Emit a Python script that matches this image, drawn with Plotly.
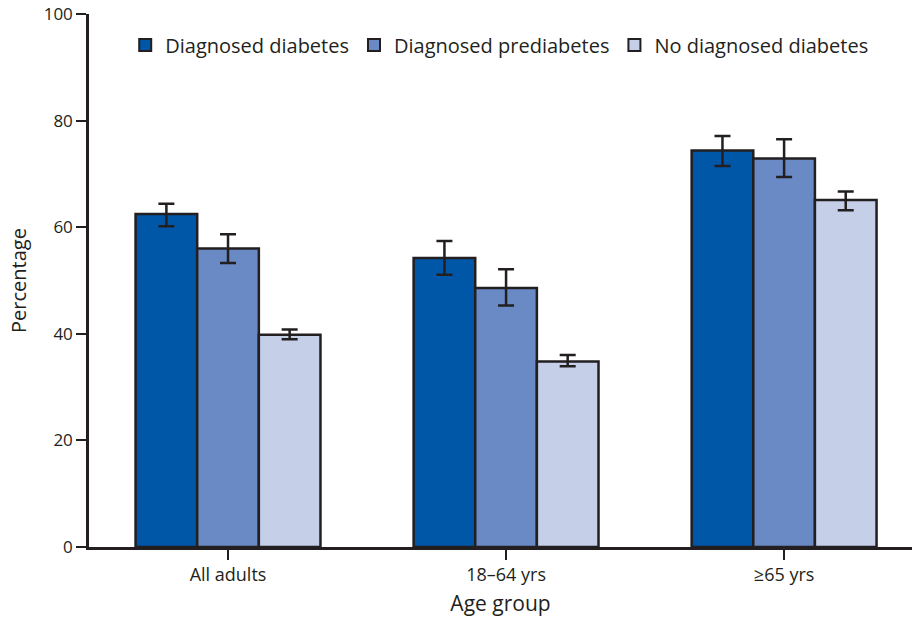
import plotly.graph_objects as go

categories = ["All adults", "18–64 yrs", "≥65 yrs"]
series_names = ["Diagnosed diabetes", "Diagnosed prediabetes", "No diagnosed diabetes"]
diabetes = [62.5, 54.2, 74.4]
diabetes_lo = [60.2, 51.1, 71.5]
diabetes_hi = [64.4, 57.4, 77.1]
prediabetes = [56.0, 48.6, 72.9]
prediabetes_lo = [53.3, 45.3, 69.4]
prediabetes_hi = [58.7, 52.1, 76.5]
nodiabetes = [39.8, 34.8, 65.1]
nodiabetes_lo = [39.0, 33.9, 63.2]
nodiabetes_hi = [40.8, 36.0, 66.7]
colors = ["#0057a8", "#6a8ac6", "#c5cfe8"]
y_ticks = [0, 20, 40, 60, 80, 100]

FONT = "Open Sans"
INK = "#231f20"

fig = go.Figure()
for name, vals, lo, hi, col in zip(
    series_names,
    [diabetes, prediabetes, nodiabetes],
    [diabetes_lo, prediabetes_lo, nodiabetes_lo],
    [diabetes_hi, prediabetes_hi, nodiabetes_hi],
    colors,
):
    fig.add_trace(go.Bar(
        x=categories, y=vals, name=name, showlegend=False,
        marker=dict(color=col, line=dict(color=INK, width=2.5)),
        error_y=dict(type="data", symmetric=False,
                     array=[h - v for h, v in zip(hi, vals)],
                     arrayminus=[v - l for v, l in zip(vals, lo)],
                     color=INK, thickness=2.5, width=8),
    ))

# legend proxies (larger square swatches like the reference)
for name, col in zip(series_names, colors):
    fig.add_trace(go.Scatter(
        x=[None], y=[None], mode="markers", name=name,
        marker=dict(symbol="square", size=19, color=col, line=dict(color=INK, width=2.5)),
    ))

fig.update_layout(
    width=912, height=617,
    margin=dict(l=89, r=0, t=14, b=70),
    paper_bgcolor="white", plot_bgcolor="white",
    barmode="group", bargap=0.335, bargroupgap=0,
    font=dict(family=FONT, size=16, color=INK),
    legend=dict(orientation="h", x=0.044, y=0.942, xanchor="left", yanchor="middle",
                font=dict(size=20, color=INK), itemsizing="constant",
                traceorder="normal", bgcolor="rgba(0,0,0,0)"),
    xaxis=dict(range=[-0.5, 2.46], showline=True, linecolor=INK, linewidth=2.5,
               ticks="outside", ticklen=10, tickwidth=2, tickcolor=INK,
               title=dict(text="Age group", font=dict(size=21), standoff=12),
               tickfont=dict(size=18)),
    yaxis=dict(range=[0, 100], tickvals=y_ticks, showline=True, linecolor=INK, linewidth=2.5,
               ticks="outside", ticklen=10, tickwidth=2, tickcolor=INK,
               showgrid=False, zeroline=False,
               title=dict(text="Percentage", font=dict(size=20), standoff=12),
               tickfont=dict(size=17)),
)

fig.write_html("out.html", config={"displayModeBar": False},
               post_script="document.body.style.margin='0';")
